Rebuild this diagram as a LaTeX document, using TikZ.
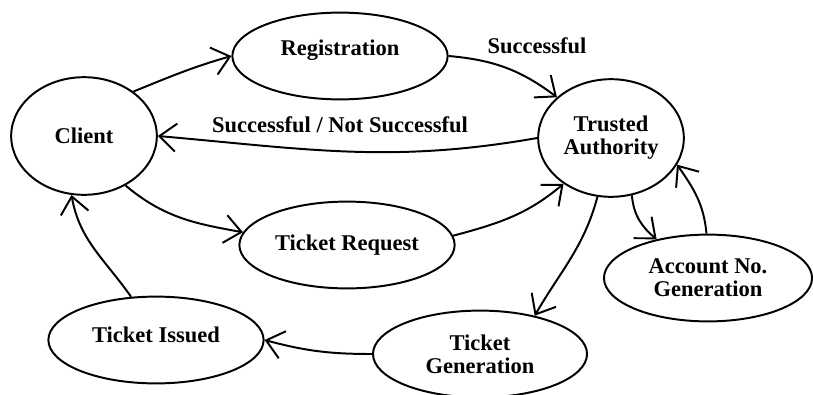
\documentclass[tikz,border=0pt]{standalone}
\usepackage{fontspec}
\setmainfont{Liberation Serif}
\usetikzlibrary{arrows.meta,shapes.geometric}

\begin{document}
\begin{tikzpicture}[x=0.025cm,y=0.025cm,
  every node/.style={font=\bfseries\fontsize{16}{16.5}\selectfont},
  state/.style={draw,ellipse,line width=1.4pt,align=center,inner sep=0pt,minimum width=5.38cm,minimum height=2.17cm},
  party/.style={state,minimum width=3.64cm,minimum height=2.94cm},
  flow/.style={-{Straight Barb[length=0.42cm,width=0.7cm]},line width=1.4pt}]
\useasboundingbox (0,0) rectangle (813,-394);

\node[party] (client) at (84,-136) {Client};
\node[party] (ta) at (611,-138) {Trusted\\Authority};
\node[state,text depth=0.42cm] (reg) at (340,-56) {Registration};
\node[state] (treq) at (347,-245) {Ticket Request};
\node[state,text depth=0.25cm] (tiss) at (156,-340) {Ticket Issued};
\node[state,minimum width=5.35cm] (tgen) at (480,-354) {Ticket\\Generation};
\node[state,minimum width=5.2cm] (acc) at (708,-278) {Account No.\\Generation};

\node (ok) at (537,-46) {Successful};
\node (reply) at (340,-125) {Successful / Not Successful};

\draw[flow] (client.42) to[out=22,in=196] (reg.west);
\draw[flow] (reg.east) to[out=-5,in=143] (ta.143);
\draw[flow] (ta.west) to[out=190,in=-5] (client.east);
\draw[flow] (client.-50) to[out=-40,in=170] (treq.173);
\draw[flow] (treq.5) to[out=15,in=220] (ta.224);
\draw[flow] (ta.257) to[out=-105,in=60] (tgen.35);
\draw[flow] (ta.-70) to[out=-85,in=140] (acc.143);
\draw[flow] (acc.92) to[out=95,in=-55] (ta.-22);
\draw[flow] (tgen.west) to[out=180,in=-15] (tiss.east);
\draw[flow] (tiss.120) to[out=125,in=-80] (client.258);


\end{tikzpicture}
\end{document}
